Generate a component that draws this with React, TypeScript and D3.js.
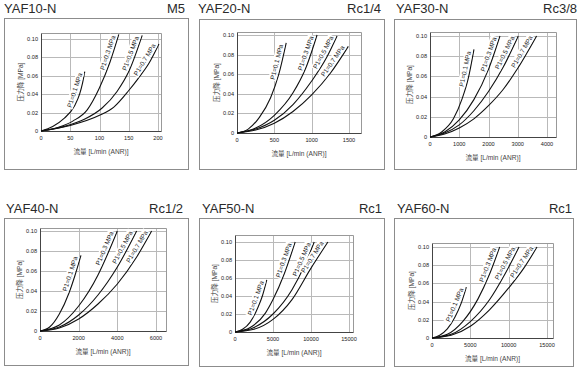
import React, { useEffect, useRef } from "react";
import * as d3 from "d3";

// ---------- data ----------
const modelNames = ["YAF10-N", "YAF20-N", "YAF30-N", "YAF40-N", "YAF50-N", "YAF60-N"];
const portSizes = ["M5", "Rc1/4", "Rc3/8", "Rc1/2", "Rc1", "Rc1"];
const xTickSets = [
  [0, 50, 100, 150, 200],
  [0, 500, 1000, 1500],
  [0, 1000, 2000, 3000, 4000],
  [0, 2000, 4000, 6000],
  [0, 5000, 10000, 15000],
  [0, 5000, 10000, 15000],
];
const yTicks = [0, 0.02, 0.04, 0.06, 0.08, 0.1];
const yTickLabels = ["0", "0.02", "0.04", "0.06", "0.08", "0.10"];
const inletPressures = ["P1=0.1 MPa", "P1=0.3 MPa", "P1=0.5 MPa", "P1=0.7 MPa"];
const xAxisTitle = "流量 [L/min (ANR)]";
const yAxisTitle = "压力降 [MPa]";

// [flow L/min, pressure drop MPa] for P1 = 0.1, 0.3, 0.5, 0.7 MPa
const yaf10Curves = [
  [[0, 0], [20, 0.005], [40, 0.014], [57, 0.027], [66, 0.04], [71, 0.052], [74.8, 0.0645]],
  [[0, 0], [30, 0.004], [55, 0.011], [79, 0.023], [100, 0.047], [118, 0.075], [133, 0.105]],
  [[0, 0], [40, 0.005], [75, 0.013], [104.5, 0.025], [130, 0.043], [151, 0.066], [173, 0.104]],
  [[0, 0], [50, 0.006], [100, 0.017], [124.5, 0.026], [150, 0.044], [166, 0.057], [184, 0.073], [201.6, 0.0946]],
];
const yaf20Curves = [
  [[0, 0], [150, 0.004], [300, 0.016], [450, 0.036], [560, 0.06], [659, 0.092]],
  [[0, 0], [250, 0.005], [500, 0.018], [750, 0.041], [920, 0.066], [1072, 0.1]],
  [[0, 0], [250, 0.004], [500, 0.013], [750, 0.029], [1000, 0.053], [1200, 0.077], [1340, 0.099]],
  [[0, 0], [250, 0.003], [500, 0.01], [750, 0.022], [1000, 0.039], [1250, 0.061], [1491, 0.0884]],
];
const yaf30Curves = [
  [[0, 0], [400, 0.005], [800, 0.018], [1100, 0.038], [1300, 0.057], [1503, 0.0868]],
  [[0, 0], [500, 0.005], [1000, 0.017], [1500, 0.037], [2000, 0.067], [2392, 0.1]],
  [[0, 0], [500, 0.004], [1000, 0.012], [1500, 0.026], [2000, 0.045], [2500, 0.069], [3018, 0.1]],
  [[0, 0], [500, 0.003], [1000, 0.009], [1500, 0.018], [2000, 0.031], [2500, 0.047], [3000, 0.068], [3645, 0.1]],
];
const yaf40Curves = [
  [[0, 0], [500, 0.004], [1000, 0.017], [1500, 0.038], [1800, 0.055], [2120, 0.0757]],
  [[0, 0], [1000, 0.006], [2000, 0.025], [3000, 0.056], [3500, 0.077], [4000, 0.1]],
  [[0, 0], [1000, 0.004], [2000, 0.016], [3000, 0.036], [4000, 0.064], [5000, 0.1]],
  [[0, 0], [1000, 0.003], [2000, 0.012], [3000, 0.027], [4000, 0.047], [5000, 0.074], [5776, 0.1]],
];
const yaf50Curves = [
  [[0, 0], [1000, 0.003], [2000, 0.011], [3000, 0.027], [3600, 0.04], [4178, 0.058]],
  [[0, 0], [2000, 0.005], [4000, 0.021], [5000, 0.036], [6500, 0.065], [7916, 0.1]],
  [[0, 0], [2500, 0.005], [5000, 0.02], [7500, 0.047], [9000, 0.071], [10422, 0.1]],
  [[0, 0], [2500, 0.003], [5000, 0.014], [7500, 0.036], [10000, 0.071], [12225, 0.1]],
];
const yaf60Curves = [
  [[0, 0], [1000, 0.003], [2000, 0.01], [3000, 0.023], [3800, 0.038], [4478, 0.056]],
  [[0, 0], [2000, 0.004], [4000, 0.018], [6000, 0.043], [7500, 0.07], [8826, 0.1]],
  [[0, 0], [2500, 0.004], [5000, 0.018], [7500, 0.042], [9500, 0.07], [11348, 0.1]],
  [[0, 0], [2500, 0.003], [5000, 0.013], [7500, 0.031], [10000, 0.055], [12000, 0.077], [13696, 0.1]],
];
const curveSets = [yaf10Curves, yaf20Curves, yaf30Curves, yaf40Curves, yaf50Curves, yaf60Curves];

// ---------- layout (pixels) ----------
type Layout = {
  frame: [number, number, number, number];
  left: number; right: number; top: number; bottom: number;
  xTickPx: number; y10Px: number;
  titleX: number; portX: number; titleY: number;
};
const layouts: Layout[] = [
  { frame: [4, 18, 188, 169], left: 41, right: 161, top: 33, bottom: 131, xTickPx: 158, y10Px: 39, titleX: 4, portX: 185, titleY: 13 },
  { frame: [199, 19, 384, 169], left: 237, right: 361, top: 32, bottom: 133, xTickPx: 349, y10Px: 35, titleX: 198, portX: 381, titleY: 13 },
  { frame: [394, 19, 576, 169], left: 430, right: 556, top: 32, bottom: 137, xTickPx: 547, y10Px: 36, titleX: 396, portX: 577, titleY: 13 },
  { frame: [4, 218, 188, 365], left: 40, right: 166, top: 228, bottom: 331, xTickPx: 156, y10Px: 231, titleX: 6, portX: 183, titleY: 213 },
  { frame: [199, 218, 384, 366], left: 235, right: 353, top: 235, bottom: 332, xTickPx: 349, y10Px: 242, titleX: 202, portX: 382, titleY: 213 },
  { frame: [394, 218, 573, 366], left: 432, right: 553, top: 243, bottom: 338, xTickPx: 547, y10Px: 247, titleX: 397, portX: 572, titleY: 213 },
];

const FONT = "'Liberation Sans', Arial, 'Noto Sans CJK SC', sans-serif";

export default function App() {
  const ref = useRef<SVGSVGElement>(null);

  useEffect(() => {
    const svg = d3.select(ref.current);
    svg.selectAll("*").remove();

    layouts.forEach((L, i) => {
      const g = svg.append("g");
      const [fx0, fy0, fx1, fy1] = L.frame;

      // frame
      g.append("rect")
        .attr("x", fx0 + 0.5).attr("y", fy0 + 0.5)
        .attr("width", fx1 - fx0).attr("height", fy1 - fy0)
        .attr("fill", "#fff").attr("stroke", "#8c8c8c").attr("stroke-width", 1);

      // titles
      g.append("text").attr("x", L.titleX).attr("y", L.titleY)
        .attr("font-family", FONT).attr("font-size", 13).attr("fill", "#2a2a2a")
        .text(modelNames[i]);
      g.append("text").attr("x", L.portX).attr("y", L.titleY)
        .attr("text-anchor", "end")
        .attr("font-family", FONT).attr("font-size", 13).attr("fill", "#2a2a2a")
        .text(portSizes[i]);

      const xt = xTickSets[i];
      const x = d3.scaleLinear().domain([0, xt[xt.length - 1]]).range([L.left, L.xTickPx]);
      const y = d3.scaleLinear().domain([0, 0.1]).range([L.bottom, L.y10Px]);
      const snap = (v: number) => Math.round(v) + 0.5;

      // grid
      const grid = g.append("g").attr("stroke", "#b9b9b9").attr("stroke-width", 1).attr("fill", "none");
      xt.slice(1).forEach((v) => {
        grid.append("line").attr("x1", snap(x(v))).attr("x2", snap(x(v)))
          .attr("y1", L.top).attr("y2", L.bottom);
      });
      yTicks.slice(1).forEach((v) => {
        grid.append("line").attr("x1", L.left).attr("x2", L.right)
          .attr("y1", snap(y(v))).attr("y2", snap(y(v)));
      });
      // plot border (top/right)
      g.append("path")
        .attr("d", `M${snap(L.left)},${snap(L.top)}H${snap(L.right)}V${snap(L.bottom)}`)
        .attr("fill", "none").attr("stroke", "#999").attr("stroke-width", 1);
      // axes
      g.append("path")
        .attr("d", `M${snap(L.left)},${snap(L.top)}V${snap(L.bottom)}H${snap(L.right)}`)
        .attr("fill", "none").attr("stroke", "#444").attr("stroke-width", 1);

      // tick labels
      xt.forEach((v) => {
        g.append("text").attr("x", x(v)).attr("y", L.bottom + 9)
          .attr("text-anchor", "middle").attr("font-family", FONT)
          .attr("font-size", 5.6).attr("fill", "#222").text(d3.format("d")(v));
      });
      yTicks.forEach((v, k) => {
        g.append("text").attr("x", L.left - 3).attr("y", y(v)).attr("dy", "0.35em")
          .attr("text-anchor", "end").attr("font-family", FONT)
          .attr("font-size", 5.6).attr("fill", "#222").text(yTickLabels[k]);
      });

      // axis titles
      g.append("text").attr("x", (L.left + L.right) / 2).attr("y", L.bottom + 23)
        .attr("text-anchor", "middle").attr("font-family", FONT)
        .attr("font-size", 6.6).attr("fill", "#444").text(xAxisTitle);
      g.append("text")
        .attr("transform", `translate(${L.left - 20},${(L.top + L.bottom) / 2}) rotate(-90)`)
        .attr("dy", "0.35em")
        .attr("text-anchor", "middle").attr("font-family", FONT)
        .attr("font-size", 6.6).attr("fill", "#444").text(yAxisTitle);

      // curves
      const line = d3.line<number[]>()
        .x((d) => x(d[0])).y((d) => y(d[1]))
        .curve(d3.curveMonotoneX);
      const curveG = g.append("g");
      const labelG = g.append("g");
      curveSets[i].forEach((series, k) => {
        const path = curveG.append("path").attr("d", line(series) as string)
          .attr("fill", "none").attr("stroke", "#111").attr("stroke-width", 1.1);
        const node = path.node() as SVGPathElement;
        const total = node.getTotalLength();

        const lg = labelG.append("g");
        const rect = lg.append("rect").attr("fill", "#fff");
        const txt = lg.append("text").attr("text-anchor", "middle").attr("dy", "0.35em")
          .attr("font-family", FONT).attr("font-size", 6.5).attr("fill", "#1a1a1a")
          .text(inletPressures[k]);
        const w = (txt.node() as SVGTextElement).getComputedTextLength();
        const gap = 3;
        const sMid = Math.max(w / 2, total - gap - w / 2);
        const p0 = node.getPointAtLength(Math.max(0, sMid - w / 2));
        const p1 = node.getPointAtLength(Math.min(total, sMid + w / 2));
        const pm = node.getPointAtLength(sMid);
        let dx = p1.x - p0.x, dy = p1.y - p0.y;
        const len = Math.hypot(dx, dy) || 1;
        dx /= len; dy /= len;
        const off = 5;
        const cx = (p0.x + p1.x) / 2 * 0.5 + pm.x * 0.5 + dy * off;
        const cy = (p0.y + p1.y) / 2 * 0.5 + pm.y * 0.5 - dx * off;
        const ang = (Math.atan2(dy, dx) * 180) / Math.PI;
        rect.attr("x", -w / 2 - 1).attr("y", -4).attr("width", w + 2).attr("height", 8);
        lg.attr("transform", `translate(${cx},${cy}) rotate(${ang})`);
      });
    });
  }, []);

  return (
    <svg
      ref={ref}
      width={585}
      height={376}
      style={{ position: "absolute", left: 0, top: 0, background: "#fff" }}
    />
  );
}
